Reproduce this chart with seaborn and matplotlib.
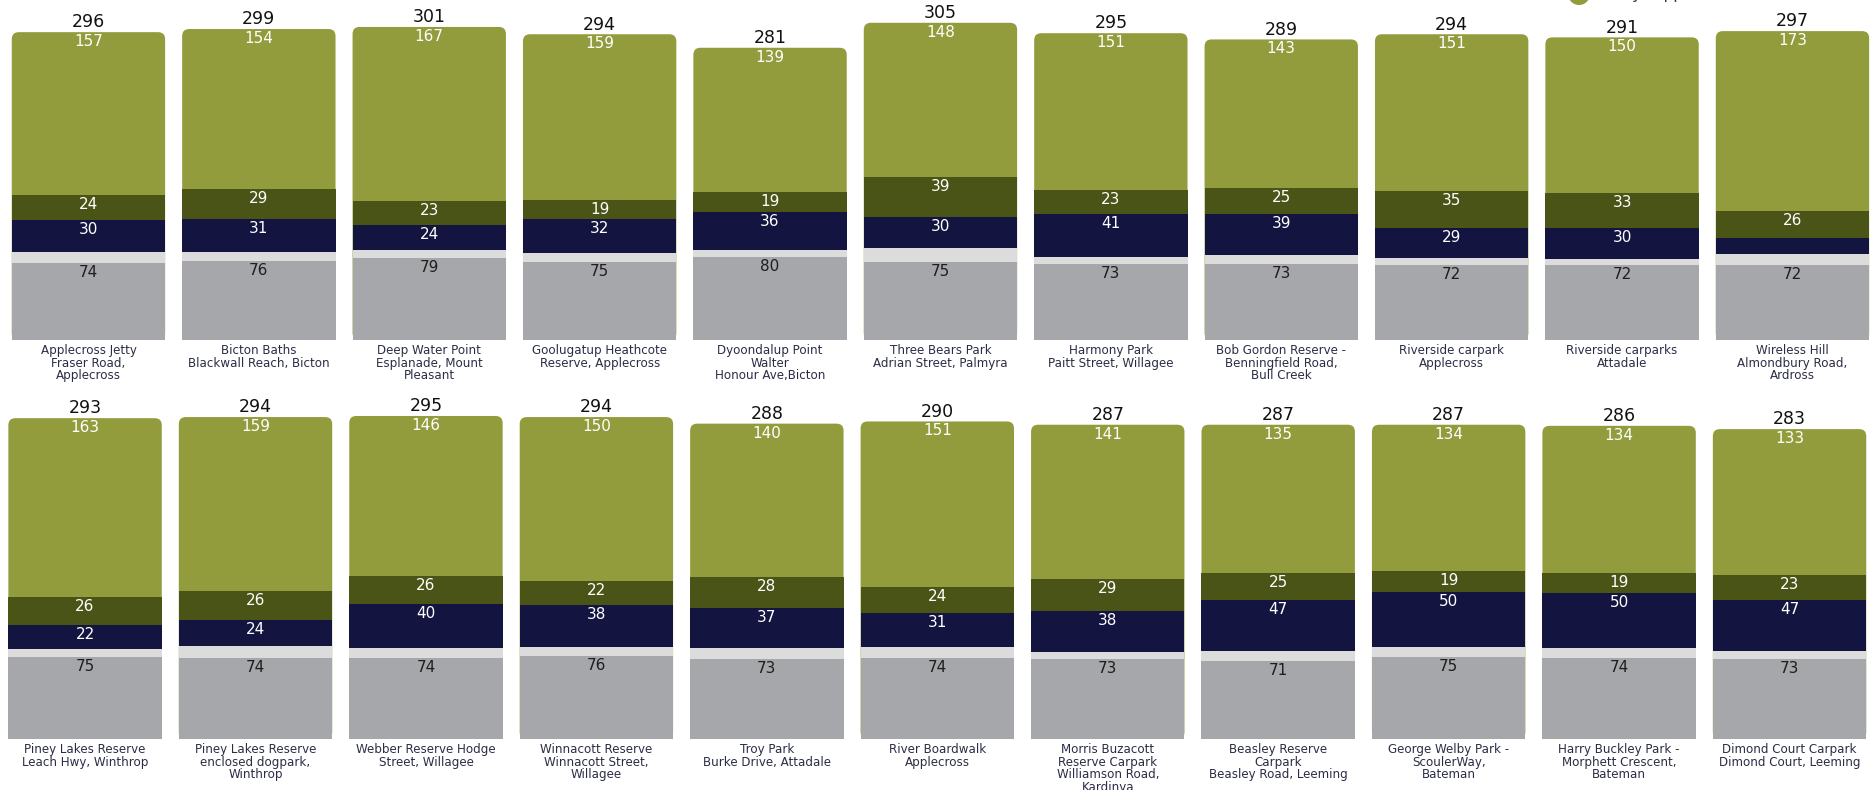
#------------------------------------------------------------------------------
# Libraries
#------------------------------------------------------------------------------

import numpy as np
import pandas as pd
import seaborn as sns
import matplotlib
matplotlib.use("Agg")
import matplotlib.pyplot as plt
from matplotlib.patches import FancyBboxPatch, Circle

#------------------------------------------------------------------------------
# Data
#------------------------------------------------------------------------------

sites_top = ["Applecross Jetty\nFraser Road,\nApplecross",
             "Bicton Baths\nBlackwall Reach, Bicton",
             "Deep Water Point\nEsplanade, Mount\nPleasant",
             "Goolugatup Heathcote\nReserve, Applecross",
             "Dyoondalup Point\nWalter\nHonour Ave,Bicton",
             "Three Bears Park\nAdrian Street, Palmyra",
             "Harmony Park\nPaitt Street, Willagee",
             "Bob Gordon Reserve -\nBenningfield Road,\nBull Creek",
             "Riverside carpark\nApplecross",
             "Riverside carparks\nAttadale",
             "Wireless Hill\nAlmondbury Road,\nArdross"]
very_top = [157, 154, 167, 159, 139, 148, 151, 143, 151, 150, 173]
somewhat_top = [24, 29, 23, 19, 19, 39, 23, 25, 35, 33, 26]
not_top = [30, 31, 24, 32, 36, 30, 41, 39, 29, 30, 15]
neutral_top = [11, 9, 8, 9, 7, 13, 7, 9, 7, 6, 11]
unsure_top = [74, 76, 79, 75, 80, 75, 73, 73, 72, 72, 72]

sites_bottom = ["Piney Lakes Reserve\nLeach Hwy, Winthrop",
                "Piney Lakes Reserve\nenclosed dogpark,\nWinthrop",
                "Webber Reserve Hodge\nStreet, Willagee",
                "Winnacott Reserve\nWinnacott Street,\nWillagee",
                "Troy Park\nBurke Drive, Attadale",
                "River Boardwalk\nApplecross",
                "Morris Buzacott\nReserve Carpark\nWilliamson Road,\nKardinya",
                "Beasley Reserve\nCarpark\nBeasley Road, Leeming",
                "George Welby Park -\nScoulerWay,\nBateman",
                "Harry Buckley Park -\nMorphett Crescent,\nBateman",
                "Dimond Court Carpark\nDimond Court, Leeming"]
very_bottom = [163, 159, 146, 150, 140, 151, 141, 135, 134, 134, 133]
somewhat_bottom = [26, 26, 26, 22, 28, 24, 29, 25, 19, 19, 23]
not_bottom = [22, 24, 40, 38, 37, 31, 38, 47, 50, 50, 47]
neutral_bottom = [7, 11, 9, 8, 10, 10, 6, 9, 9, 9, 7]
unsure_bottom = [75, 74, 74, 76, 73, 74, 73, 71, 75, 74, 73]

layers = ["Unsure", "Neutral", "Not supportive", "Somewhat supportive", "Very supportive"]
colors = {"Unsure": "#a6a7ab", "Neutral": "#dcdcdc", "Not supportive": "#141440",
          "Somewhat supportive": "#4a5417", "Very supportive": "#929c3c"}
text_colors = {"Unsure": "#1e1e1e", "Neutral": "#1e1e1e", "Not supportive": "white",
               "Somewhat supportive": "white", "Very supportive": "white"}

#------------------------------------------------------------------------------
# Helper function
#------------------------------------------------------------------------------

def draw_row(ax, sites, values, px_per_unit):
    df = pd.DataFrame(values, index=layers).T
    df["site"] = sites
    cum = df[layers].cumsum(axis=1)
    # draw from the top layer down, each bar covering the ones below
    for k, layer in enumerate(layers[::-1]):
        n_before = len(ax.patches)
        sns.barplot(x=sites, y=cum[layer].values, color=colors[layer],
                    width=0.9, saturation=1, linewidth=0, ax=ax, order=sites)
        if layer == "Very supportive":
            # rounded top corners
            for p in ax.patches[n_before:]:
                p.set_visible(False)
                r = 7 / 170.4
                fb = FancyBboxPatch((p.get_x(), 0), p.get_width(), p.get_height(),
                                    boxstyle=f"round,pad=0,rounding_size={r}",
                                    mutation_aspect=170.4 / px_per_unit,
                                    facecolor=colors[layer], edgecolor="none",
                                    linewidth=0, zorder=1)
                ax.add_patch(fb)
        else:
            for p in ax.patches[n_before:]:
                p.set_zorder(2 + k)
    # segment labels near the top of each segment
    for i in range(len(sites)):
        for layer in layers:
            v = df[layer].iloc[i]
            if layer == "Neutral" or v < 17:
                continue
            ax.annotate(str(v), (i, cum[layer].iloc[i]), xytext=(0, -6.8),
                        textcoords="offset points", ha="center", va="center",
                        fontsize=11, color=text_colors[layer], zorder=20)
        ax.annotate(str(cum["Very supportive"].iloc[i]), (i, cum["Very supportive"].iloc[i]),
                    xytext=(0, 7), textcoords="offset points", ha="center",
                    va="center", fontsize=12.5, color="#111111", zorder=20)
    ax.set_ylabel("")
    ax.set_yticks([])
    ax.patch.set_visible(False)
    for s in ax.spines.values():
        s.set_visible(False)
    ax.tick_params(axis="x", length=0, pad=3)
    for lab in ax.get_xticklabels():
        lab.set_fontsize(8.6)
        lab.set_color("#2b2d45")
        lab.set_linespacing(0.96)

#------------------------------------------------------------------------------
# Figure
#------------------------------------------------------------------------------

sns.set_style("white")
plt.rcParams["font.family"] = ["DejaVu Sans"]

fig = plt.figure(figsize=(18.7, 7.9), dpi=100)
ax_top = fig.add_axes([0, 450 / 790, 1, 340 / 790])
ax_bot = fig.add_axes([0, 51 / 790, 1, 359 / 790])

draw_row(ax_top, sites_top,
         [unsure_top, neutral_top, not_top, somewhat_top, very_top], 1.04)
ax_top.set_xlim(-0.519, 10.455)
ax_top.set_ylim(0, 340 / 1.04)

draw_row(ax_bot, sites_bottom,
         [unsure_bottom, neutral_bottom, not_bottom, somewhat_bottom, very_bottom], 1.095)
ax_bot.set_xlim(-0.499, 10.472)
ax_bot.set_ylim(0, 359 / 1.095)

# legend entry, mostly cut off by the top edge (as in the source image)
fig.patches.append(Circle((1579, 796), 11, transform=None,
                          facecolor=colors["Very supportive"], edgecolor="none"))
fig.text(1607 / 1870, 796 / 790, "Very supportive", fontsize=11, color="#333333",
         ha="left", va="center")

fig.savefig("out.png", dpi=100)
